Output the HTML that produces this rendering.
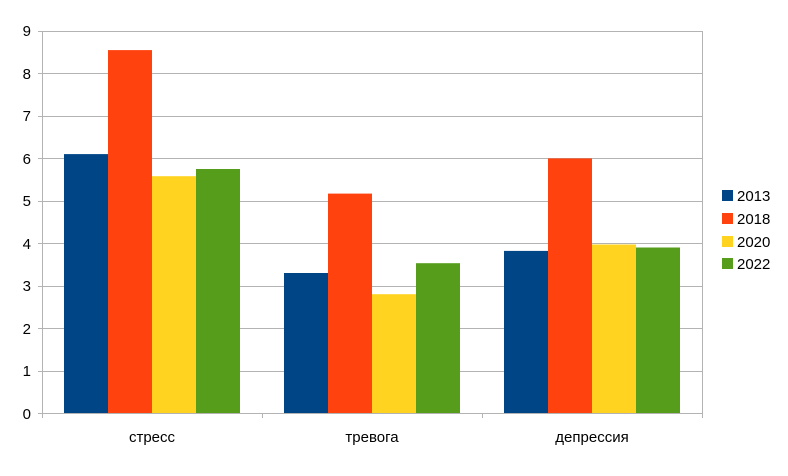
<!DOCTYPE html>
<html><head><style>body{margin:0;background:#fff}</style></head><body>
<svg width="788" height="471" xmlns="http://www.w3.org/2000/svg" font-family="Liberation Sans, sans-serif">
<rect width="788" height="471" fill="#fff"/>
<g stroke="#b3b3b3" stroke-width="1">
<line x1="38" y1="31.5" x2="702" y2="31.5"/>
<line x1="38" y1="73.5" x2="702" y2="73.5"/>
<line x1="38" y1="116.5" x2="702" y2="116.5"/>
<line x1="38" y1="158.5" x2="702" y2="158.5"/>
<line x1="38" y1="201.5" x2="702" y2="201.5"/>
<line x1="38" y1="243.5" x2="702" y2="243.5"/>
<line x1="38" y1="286.5" x2="702" y2="286.5"/>
<line x1="38" y1="328.5" x2="702" y2="328.5"/>
<line x1="38" y1="371.5" x2="702" y2="371.5"/>
<line x1="38" y1="413.5" x2="702" y2="413.5"/>
<line x1="42.5" y1="31" x2="42.5" y2="418"/>
<line x1="702.5" y1="31" x2="702.5" y2="418"/>
<line x1="262.5" y1="413" x2="262.5" y2="418"/>
<line x1="482.5" y1="413" x2="482.5" y2="418"/>
</g>
<g>
<rect x="64" y="154.1" width="44" height="258.9" fill="#004586"/>
<rect x="108" y="50.1" width="44" height="362.9" fill="#ff420e"/>
<rect x="152" y="176.2" width="44" height="236.8" fill="#ffd320"/>
<rect x="196" y="169" width="44" height="244" fill="#579d1c"/>
<rect x="284" y="273" width="44" height="140" fill="#004586"/>
<rect x="328" y="193.6" width="44" height="219.4" fill="#ff420e"/>
<rect x="372" y="294.2" width="44" height="118.8" fill="#ffd320"/>
<rect x="416" y="263.2" width="44" height="149.8" fill="#579d1c"/>
<rect x="504" y="250.9" width="44" height="162.1" fill="#004586"/>
<rect x="548" y="158.4" width="44" height="254.6" fill="#ff420e"/>
<rect x="592" y="244.5" width="44" height="168.5" fill="#ffd320"/>
<rect x="636" y="247.5" width="44" height="165.5" fill="#579d1c"/>
</g>
<g font-size="15" fill="#000" text-anchor="end">
<text x="31" y="36">9</text><text x="31" y="79">8</text><text x="31" y="121">7</text>
<text x="31" y="164">6</text><text x="31" y="206">5</text><text x="31" y="249">4</text>
<text x="31" y="291">3</text><text x="31" y="334">2</text><text x="31" y="376">1</text>
<text x="31" y="419">0</text>
</g>
<g font-size="15" fill="#000" text-anchor="middle">
<text x="152" y="442">стресс</text><text x="372" y="442">тревога</text><text x="592" y="442">депрессия</text>
</g>
<g font-size="15" fill="#000">
<rect x="722" y="190" width="11" height="11" fill="#004586"/><text x="737" y="201">2013</text>
<rect x="722" y="213" width="11" height="11" fill="#ff420e"/><text x="737" y="224">2018</text>
<rect x="722" y="236" width="11" height="11" fill="#ffd320"/><text x="737" y="247">2020</text>
<rect x="722" y="258" width="11" height="11" fill="#579d1c"/><text x="737" y="269">2022</text>
</g>
</svg>
</body></html>
